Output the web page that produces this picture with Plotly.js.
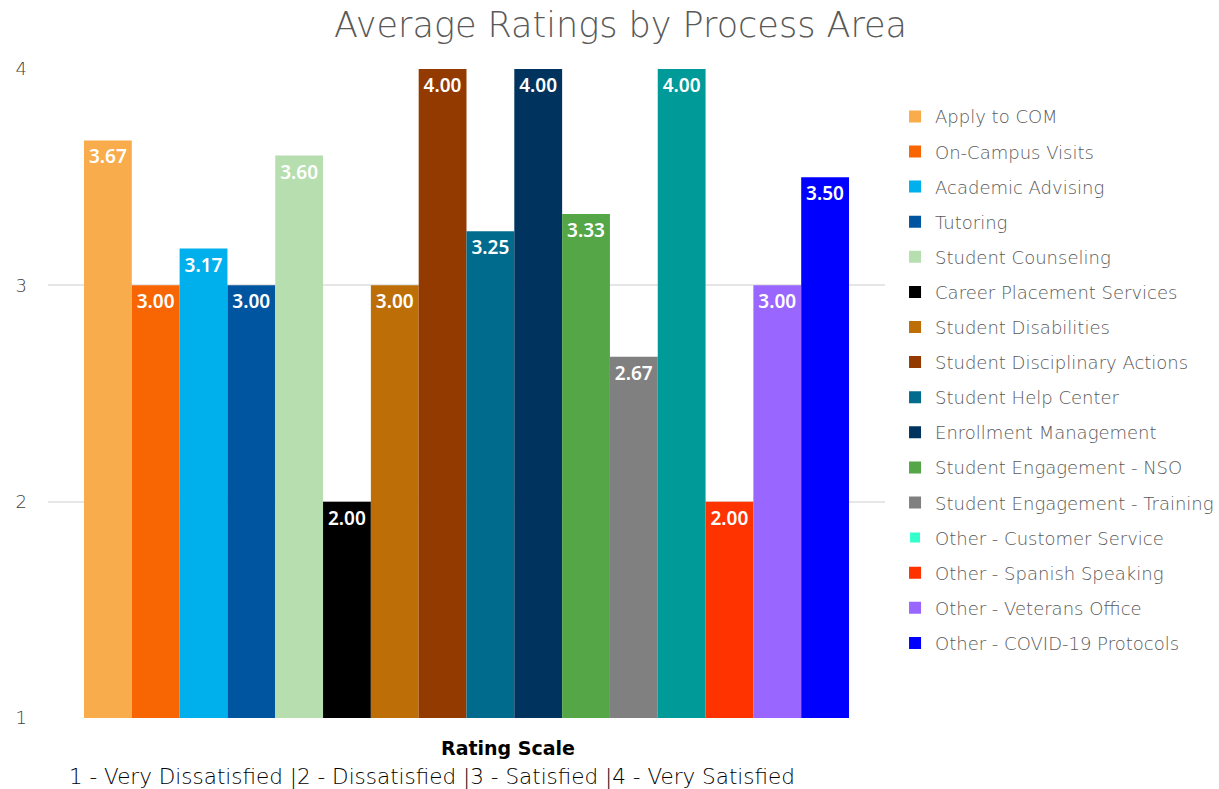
<!DOCTYPE html>
<html>
<head>
<meta charset="utf-8">
<script src="https://cdn.plot.ly/plotly-3.0.1.min.js"></script>
<style>html,body{margin:0;padding:0;background:#fff;}#chart{width:1219px;height:789px;}</style>
</head>
<body>
<div id="chart"></div>
<script>
const category = ["Rating Scale"];
const seriesNames = [
  "Apply to COM", "On-Campus Visits", "Academic Advising", "Tutoring",
  "Student Counseling", "Career Placement Services", "Student Disabilities",
  "Student Disciplinary Actions", "Student Help Center", "Enrollment Management",
  "Student Engagement - NSO", "Student Engagement - Training",
  "Other - Customer Service", "Other - Spanish Speaking",
  "Other - Veterans Office", "Other - COVID-19 Protocols"
];
const seriesValues = [3.67, 3.00, 3.17, 3.00, 3.60, 2.00, 3.00, 4.00, 3.25, 4.00, 3.33, 2.67, 4.00, 2.00, 3.00, 3.50];
const barColors = [
  "#F9AC4B", "#F86604", "#00B0EC", "#0055A0", "#B6DEAF", "#000000", "#BD6E07",
  "#923A00", "#006B8C", "#00345E", "#54A647", "#808080", "#009A99", "#FF3300",
  "#9966FF", "#0000FF"
];
const legendColors = barColors.slice();
legendColors[12] = "#33FFCC";
const tickVals = [1, 2, 3, 4];
const axisTitle = "Rating Scale";
const scaleNote = "1 - Very Dissatisfied |2 - Dissatisfied |3 - Satisfied |4 - Very Satisfied";

const traces = [];
seriesNames.forEach((name, i) => {
  const sameLegend = legendColors[i] === barColors[i];
  traces.push({
    type: "bar",
    name: name,
    x: category,
    y: [seriesValues[i]],
    marker: {color: barColors[i]},
    text: [seriesValues[i].toFixed(2)],
    textposition: "inside",
    insidetextanchor: "end",
    textangle: 0,
    textfont: {family: "Noto Sans, sans-serif", size: 19, color: "#ffffff", weight: 600},
    hoverinfo: "name+y",
    legendgroup: "g" + i,
    legendrank: i + 1,
    showlegend: sameLegend
  });
  if (!sameLegend) {
    traces.push({
      type: "scatter",
      mode: "markers",
      name: name,
      x: [null],
      y: [null],
      marker: {symbol: "square", size: 10, color: legendColors[i]},
      legendgroup: "g" + i,
      legendrank: i + 1,
      showlegend: true,
      hoverinfo: "skip"
    });
  }
});

const layout = {
  width: 1219,
  height: 789,
  margin: {l: 48, r: 334, t: 69, b: 71, autoexpand: false},
  paper_bgcolor: "#ffffff",
  plot_bgcolor: "#ffffff",
  font: {family: "DejaVu Sans, sans-serif", color: "#595959"},
  title: {
    text: "Average Ratings by Process Area",
    font: {family: "DejaVu Sans, sans-serif", size: 35, color: "#595959", weight: 200},
    x: 0.509, xanchor: "center", y: 0.968, yanchor: "middle"
  },
  barmode: "group",
  bargap: 0.086,
  bargroupgap: 0,
  showlegend: true,
  legend: {
    x: 1.012, xanchor: "left", y: 0.955, yanchor: "top",
    font: {family: "DejaVu Sans, sans-serif", size: 18, color: "#595959", weight: 300},
    tracegroupgap: 8.7,
    itemclick: false
  },
  xaxis: {
    showticklabels: false,
    showgrid: false,
    zeroline: false,
    showline: false,
    ticks: ""
  },
  yaxis: {
    range: [1, 4],
    tickvals: tickVals,
    ticktext: tickVals.map(String),
    showgrid: true,
    gridcolor: "#E6E6E6",
    gridwidth: 2,
    zeroline: false,
    showline: false,
    ticks: "",
    ticklabelstandoff: 20,
    tickfont: {family: "DejaVu Sans, sans-serif", size: 18, color: "#404040", weight: 300}
  },
  annotations: [
    {
      text: "<b>" + axisTitle + "</b>",
      xref: "paper", yref: "paper",
      x: 0.55, y: -0.046, xanchor: "center", yanchor: "middle",
      showarrow: false,
      font: {family: "DejaVu Sans, sans-serif", size: 19, color: "#000000"}
    },
    {
      text: scaleNote,
      xref: "paper", yref: "paper",
      x: 0.459, y: -0.091, xanchor: "center", yanchor: "middle",
      showarrow: false,
      font: {family: "DejaVu Sans, sans-serif", size: 21.5, color: "#000000", weight: 300}
    }
  ]
};

Plotly.newPlot("chart", traces, layout, {displayModeBar: false, responsive: false});
</script>
</body>
</html>
